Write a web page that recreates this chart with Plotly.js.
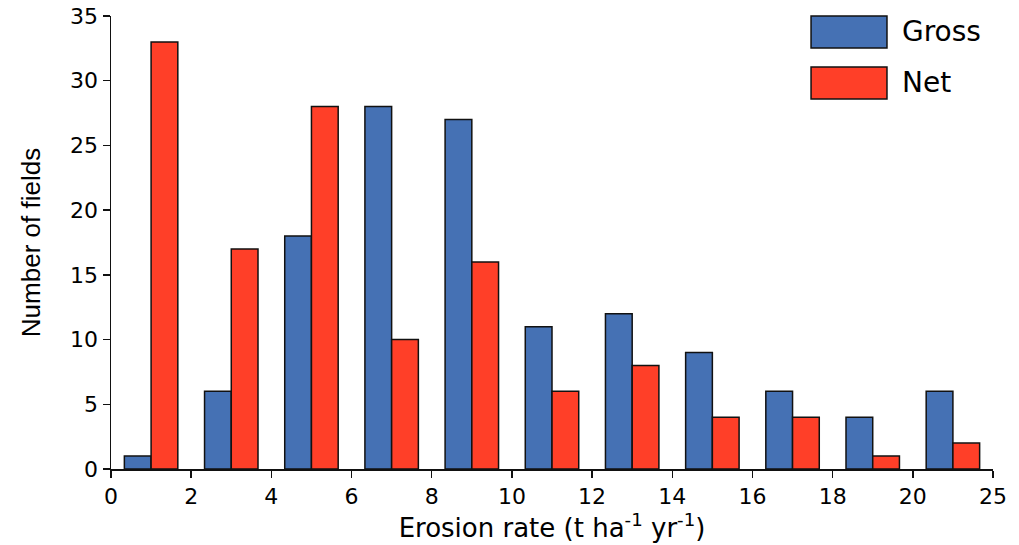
<!DOCTYPE html>
<html><head><meta charset="utf-8">
<script src="https://cdn.plot.ly/plotly-3.0.1.min.js"></script>
<style>html,body{margin:0;padding:0;background:#fff}#c{width:1019px;height:545px}</style>
</head><body><div id="c"></div>
<script>
const binCenters = [1,3,5,7,9,11,13,15,17,19,21];
const gross = [1,6,18,28,27,11,12,9,6,4,6];
const net = [33,17,28,10,16,6,8,4,4,1,2];
const tickVals = [0,2,4,6,8,10,12,14,16,18,20,22];
const tickText = ["0","2","4","6","8","10","12","14","16","18","20","25"];
const seriesNames = ["Gross","Net"];
const colors = ["#4571B4","#FF3F28"];

const font = "DejaVu Sans, Verdana, sans-serif";
const font2 = "Liberation Sans, Arial, sans-serif";
const traces = [
  {type:"bar", name:seriesNames[0], x:binCenters, y:gross, marker:{color:colors[0], line:{color:"#111", width:1.5}}},
  {type:"bar", name:seriesNames[1], x:binCenters, y:net, marker:{color:colors[1], line:{color:"#111", width:1.5}}}
];
const shapes = [], annotations = [];
const boxes = [[1.0, 0.9294],[0.8874, 0.8168]];
seriesNames.forEach((n,i)=>{
  const y1 = boxes[i][0], y0 = boxes[i][1];
  shapes.push({type:"rect", xref:"paper", yref:"paper", x0:0.7937, x1:0.8798, y0:y0, y1:y1,
    fillcolor:colors[i], line:{color:"#111", width:1.5}});
  annotations.push({xref:"paper", yref:"paper", x:0.895, y:(y0+y1)/2, xanchor:"left", yanchor:"middle",
    text:n, showarrow:false, font:{family:font, size:28, color:"#000"}});
});
const layout = {
  width:1019, height:545,
  margin:{l:111, r:26, t:16, b:76},
  paper_bgcolor:"#fff", plot_bgcolor:"#fff",
  barmode:"group", bargap:1/3, bargroupgap:0,
  showlegend:false,
  font:{family:font, color:"#000"},
  xaxis:{range:[0,22], tickvals:tickVals, ticktext:tickText, showgrid:false, zeroline:false,
    showline:true, linecolor:"#111", linewidth:1.5, ticks:"outside", ticklen:7, tickwidth:1.5, tickcolor:"#111",
    tickfont:{size:22, family:font}, title:{text:"Erosion rate (t ha<sup>-1</sup> yr<sup>-1</sup>)", font:{size:26, family:font}, standoff:6}},
  yaxis:{range:[0,35], dtick:5, showgrid:false, zeroline:false,
    showline:true, linecolor:"#111", linewidth:1.5, ticks:"outside", ticklen:7, tickwidth:1.5, tickcolor:"#111",
    tickfont:{size:22, family:font}, title:{text:"Number of fields", font:{size:26, family:font2}, standoff:22}},
  shapes:shapes, annotations:annotations
};
Plotly.newPlot("c", traces, layout, {displayModeBar:false, staticPlot:true});
</script></body></html>
